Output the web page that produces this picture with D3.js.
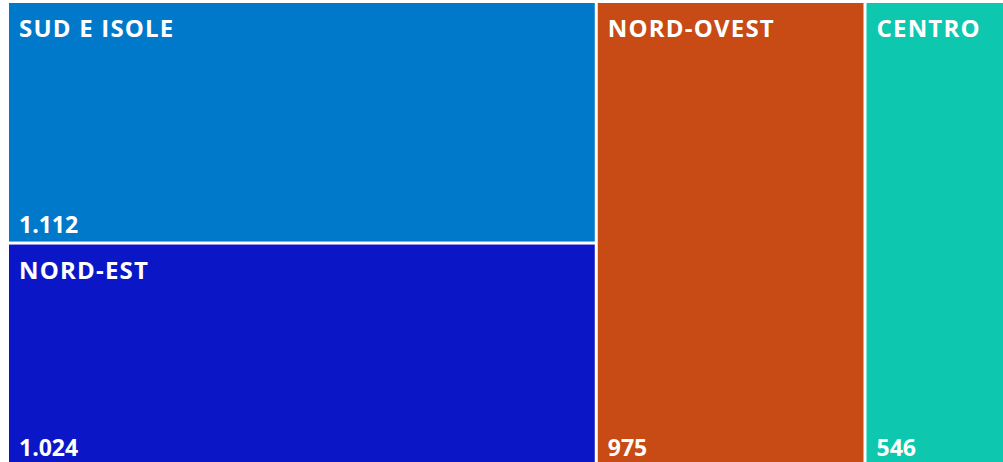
<!DOCTYPE html>
<html><head><meta charset="utf-8">
<script src="https://cdn.jsdelivr.net/npm/d3@7"></script>
<style>
html,body{margin:0;padding:0;background:#fff;overflow:hidden;}
svg{display:block;}
text{font-family:"Open Sans",sans-serif;font-weight:700;fill:#fff;}
</style></head>
<body>
<svg id="chart" width="1003" height="462"></svg>
<script>
const categories = ["SUD E ISOLE", "NORD-EST", "NORD-OVEST", "CENTRO"];
const values = [1112, 1024, 975, 546];
const valueLabels = ["1.112", "1.024", "975", "546"];
const colors = ["#0079CA", "#0B17C6", "#C84A14", "#0DC7AF"];
const columnGroups = [[0, 1], [2], [3]];

const svg = d3.select("#chart");
const root = d3.hierarchy({
  children: columnGroups.map(g => g.length > 1
    ? {children: g.map(i => ({i, value: values[i]}))}
    : {i: g[0], value: values[g[0]]})
}).sum(d => d.children ? 0 : d.value);

d3.treemap()
  .tile((node, x0, y0, x1, y1) => node.depth === 0
      ? d3.treemapDice(node, x0, y0, x1, y1)
      : d3.treemapSlice(node, x0, y0, x1, y1))
  .size([1005, 461])
  .paddingInner(3)
  .round(false)(root);

const plot = svg.append("g").attr("transform", "translate(9,3)");
const leaves = root.leaves();
const g = plot.selectAll("g.cell").data(leaves).join("g").attr("class", "cell");
g.append("rect")
  .attr("x", d => d.x0).attr("y", d => d.y0)
  .attr("width", d => d.x1 - d.x0).attr("height", d => d.y1 - d.y0)
  .attr("fill", d => colors[d.data.i]);
g.append("text")
  .attr("x", d => d.x0 + 10).attr("y", d => d.y0 + 34)
  .attr("font-size", 24)
  .attr("letter-spacing", 1.2)
  .text(d => categories[d.data.i]);
g.append("text")
  .attr("x", d => d.x0 + 10).attr("y", d => d.y1 - 8.5)
  .attr("font-size", 23)
  .text(d => valueLabels[d.data.i]);
</script>
</body></html>
